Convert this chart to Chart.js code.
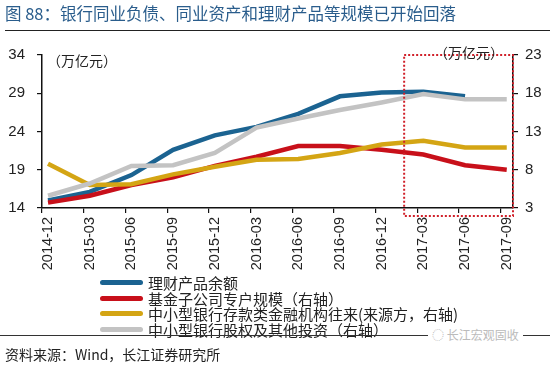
<!DOCTYPE html>
<html>
<head>
<meta charset="utf-8">
<script src="https://cdn.jsdelivr.net/npm/chart.js@4/dist/chart.umd.min.js"></script>
<style>
  html, body { margin: 0; padding: 0; background: #fff; }
  #wrap { position: relative; width: 550px; height: 365px; overflow: hidden; font-family: "Noto Sans CJK SC", "Liberation Sans", sans-serif; }
  #c { position: absolute; left: 0; top: 0; }
  .abs { position: absolute; white-space: nowrap; }
  #title { left: 5px; top: 1px; font-size: 16.5px; color: #2a5d8c; }
  #rule1 { left: 5px; top: 30px; width: 545px; height: 0; border-top: 1.5px solid #222; }
  #rule2 { left: 0px; top: 335px; width: 550px; height: 0; border-top: 1.2px solid #333; }
  #unitL { left: 47px; top: 50px; font-size: 14px; color: #222; }
  #unitR { left: 434px; top: 42px; font-size: 14px; color: #222; }
  #legend { left: 100px; top: 275px; font-size: 15px; color: #222; }
  .li { height: 15.5px; line-height: 15.5px; display: flex; align-items: center; }
  .sw { width: 43px; height: 5px; border-radius: 3px; margin-right: 5px; }
  #src { left: 5px; top: 344px; font-size: 14px; color: #222; }
  #wm { left: 428px; top: 326px; font-size: 12px; color: #bbb; background: #fff; padding: 0 4px; }
</style>
</head>
<body>
<div id="wrap">
  <canvas id="c" width="550" height="365"></canvas>
  <div id="title" class="abs">图 88：银行同业负债、同业资产和理财产品等规模已开始回落</div>
  <div id="rule1" class="abs"></div>
  <div id="unitL" class="abs">（万亿元）</div>
  <div id="unitR" class="abs">（万亿元）</div>
  <div id="legend" class="abs"></div>
  <div id="rule2" class="abs"></div>
  <div id="wm" class="abs">◌ 长江宏观固收</div>
  <div id="src" class="abs">资料来源：Wind，长江证券研究所</div>
</div>
<script>
// ---- data ----
const categories = ["2014-12","2015-03","2015-06","2015-09","2015-12","2016-03","2016-06","2016-09","2016-12","2017-03","2017-06","2017-09"];
const wealthMgmt = [15.0, 16.1, 18.3, 21.6, 23.5, 24.6, 26.3, 28.6, 29.1, 29.2, 28.6, null];   // 理财产品余额 (left)
const fundSubsidiary = [3.7, 4.6, 6.0, 7.0, 8.5, 9.7, 11.1, 11.1, 10.6, 10.0, 8.6, 8.0];      // 基金子公司专户规模 (right)
const interbankLiab = [8.8, 6.0, 6.1, 7.4, 8.4, 9.3, 9.4, 10.2, 11.3, 11.8, 10.9, 10.9];      // 中小型银行存款类金融机构往来 (right)
const equityInvest = [4.6, 6.2, 8.5, 8.6, 10.2, 13.5, 14.7, 15.8, 16.8, 17.9, 17.2, 17.2];    // 中小型银行股权及其他投资 (right)
const seriesNames = ["理财产品余额","基金子公司专户规模（右轴）","中小型银行存款类金融机构往来(来源方，右轴)","中小型银行股权及其他投资（右轴）"];
const leftTicks = { min: 14, max: 34, step: 5 };
const rightTicks = { min: 3, max: 23, step: 5 };

const colors = ["#1b6391", "#c8101a", "#d4a514", "#c3c3c3"];
const toXY = arr => arr.map((v, i) => ({ x: i, y: v }));

const legend = document.getElementById('legend');
seriesNames.forEach((n, i) => {
  const d = document.createElement('div');
  d.className = 'li';
  d.innerHTML = '<span class="sw" style="background:' + colors[i] + '"></span><span>' + n + '</span>';
  legend.appendChild(d);
});

const TICK_SHIFT = -0.144;

const boxPlugin = {
  id: 'box',
  afterDatasetsDraw(chart) {
    const { ctx, chartArea, scales } = chart;
    const x0 = scales.x.getPixelForValue(8.54);
    const x1 = chartArea.right;
    const y0 = chartArea.top;
    const y1 = chartArea.bottom + 8;
    ctx.save();
    ctx.strokeStyle = '#d0202a';
    ctx.lineWidth = 2;
    ctx.setLineDash([2, 2]);
    ctx.strokeRect(x0, y0, x1 - x0, y1 - y0);
    ctx.restore();
  }
};

const ds = [wealthMgmt, fundSubsidiary, interbankLiab, equityInvest].map((arr, i) => ({
  label: seriesNames[i],
  data: toXY(arr),
  borderColor: colors[i],
  backgroundColor: colors[i],
  borderWidth: 4.5,
  pointRadius: 0,
  tension: 0,
  spanGaps: false,
  yAxisID: i === 0 ? 'yL' : 'yR',
  order: 3 - i
}));

new Chart(document.getElementById('c'), {
  type: 'line',
  data: { datasets: ds },
  options: {
    responsive: false,
    devicePixelRatio: 1,
    animation: false,
    layout: { padding: { top: 55, left: 0, right: 0, bottom: 0 } },
    plugins: { legend: { display: false }, tooltip: { enabled: false } },
    scales: {
      x: {
        type: 'linear',
        min: TICK_SHIFT,
        max: 11.15,
        afterBuildTicks: s => { s.ticks = categories.map((_, i) => ({ value: i + TICK_SHIFT })); },
        afterFit: s => { s.height = 157; },
        grid: { display: true, drawOnChartArea: false, drawTicks: true, tickLength: 5, color: '#111', lineWidth: 1.2 },
        border: { display: true, color: '#111', width: 1.5 },
        ticks: {
          autoSkip: false, minRotation: 90, maxRotation: 90, padding: 4, labelOffset: 6,
          color: '#222', font: { family: 'Liberation Sans', size: 14.5 },
          callback: (v, i) => categories[i]
        }
      },
      yL: {
        position: 'left',
        min: leftTicks.min, max: leftTicks.max,
        afterFit: s => { s.width = 42; },
        grid: { display: true, drawOnChartArea: false, tickLength: 5, color: '#111', lineWidth: 1.2 },
        border: { display: true, color: '#111', width: 1.5 },
        ticks: { stepSize: leftTicks.step, padding: 12, color: '#222', font: { family: 'Liberation Sans', size: 15 } }
      },
      yR: {
        position: 'right',
        min: rightTicks.min, max: rightTicks.max,
        afterFit: s => { s.width = 37; },
        grid: { display: true, drawOnChartArea: false, tickLength: 5, color: '#111', lineWidth: 1.2 },
        border: { display: true, color: '#111', width: 1.5 },
        ticks: { stepSize: rightTicks.step, padding: 7, color: '#222', font: { family: 'Liberation Sans', size: 15 } }
      }
    }
  },
  plugins: [boxPlugin]
});
</script>
</body>
</html>
